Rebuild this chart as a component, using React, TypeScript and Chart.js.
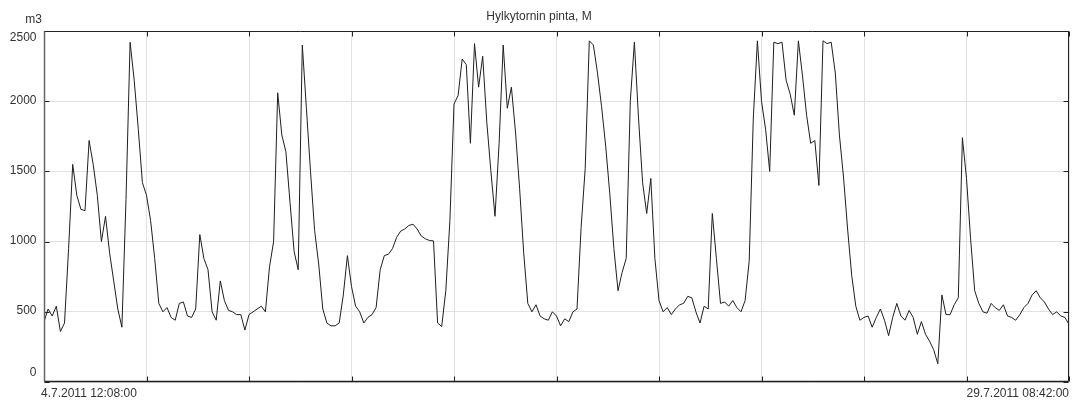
import React, { useEffect, useRef } from 'react';
import { Chart, registerables } from 'chart.js';

Chart.register(...registerables);

const chartTitle = 'Hylkytornin pinta, M';
const unitLabel = 'm3';
const startLabel = '4.7.2011 12:08:00';
const endLabel = '29.7.2011 08:42:00';
const yTicks = [0, 500, 1000, 1500, 2000, 2500];

// Level samples, evenly spaced in time (25 samples per grid division)
const levelsA = [430, 520, 470, 540, 360, 420, 950, 1550, 1330, 1230, 1220, 1720, 1550, 1330, 1000, 1180, 920, 720, 520, 390, 1300, 2420, 2150, 1800, 1420, 1330, 1150, 880, 560, 500, 530, 460, 440, 560, 570, 470, 460, 520, 1050, 880, 800, 500, 440, 720, 580, 510, 500, 480, 480, 370];
const levelsB = [480, 500, 520, 540, 500, 820, 1000, 2060, 1760, 1640, 1280, 930, 800, 2400, 1950, 1500, 1080, 840, 520, 420, 400, 400, 420, 620, 900, 680, 540, 500, 420, 460, 480, 530, 800, 900, 910, 950, 1030, 1075, 1090, 1115, 1124, 1090, 1040, 1020, 1008, 1005, 420, 395, 650, 1150];
const levelsC = [1980, 2040, 2300, 2260, 1700, 2410, 2100, 2320, 1850, 1500, 1180, 1700, 2400, 1950, 2100, 1780, 1380, 920, 560, 500, 550, 470, 450, 440, 500, 470, 400, 450, 430, 500, 520, 1100, 1520, 2430, 2400, 2200, 1960, 1680, 1340, 950, 650, 780, 880, 2000, 2420, 1880, 1420, 1200, 1450, 880];
const levelsD = [580, 500, 530, 480, 520, 550, 560, 610, 600, 500, 420, 540, 520, 1200, 880, 560, 570, 540, 580, 530, 500, 580, 860, 1880, 2430, 2000, 1800, 1500, 2420, 2410, 2420, 2150, 2050, 1900, 2430, 2180, 1900, 1700, 1720, 1400, 2430, 2410, 2420, 2200, 1760, 1460, 1090, 760, 540, 440];
const levelsE = [460, 470, 390, 460, 520, 440, 330, 460, 560, 470, 440, 510, 460, 340, 430, 340, 290, 230, 130, 620, 480, 480, 550, 600, 1740, 1450, 1020, 650, 560, 500, 490, 560, 530, 510, 550, 470, 460, 440, 480, 530, 560, 620, 650, 600, 570, 520, 480, 500, 470, 460, 410];

const levels = [...levelsA, ...levelsB, ...levelsC, ...levelsD, ...levelsE];

const FONT = '12px "Liberation Sans", Arial, sans-serif';
const TEXT = '#333';

const decor = {
  id: 'decor',
  afterDraw(chart: any) {
    const { ctx, chartArea: a, scales } = chart;
    const xs = scales.x;
    const ys = scales.y;
    ctx.save();
    const L = Math.round(a.left) + 0.5;
    const R = Math.round(a.right) - 0.5;
    const T = Math.round(a.top) + 0.5;
    const B = Math.round(a.bottom) - 0.5;

    // inner tick marks
    ctx.strokeStyle = '#222';
    ctx.lineWidth = 1;
    ctx.beginPath();
    xs.ticks.forEach((t: any) => {
      const px = Math.round(xs.getPixelForValue(t.value)) + 0.5;
      ctx.moveTo(px, B);
      ctx.lineTo(px, B - 5);
      ctx.moveTo(px, T);
      ctx.lineTo(px, T + 5);
    });
    ys.ticks.forEach((t: any) => {
      const py = Math.round(ys.getPixelForValue(t.value)) + 0.5;
      ctx.moveTo(L, py);
      ctx.lineTo(L + 5, py);
      ctx.moveTo(R, py);
      ctx.lineTo(R - 5, py);
    });
    ctx.stroke();

    // frame
    ctx.strokeStyle = '#222';
    ctx.beginPath();
    ctx.moveTo(L, T);
    ctx.lineTo(R, T);
    ctx.lineTo(R, B);
    ctx.stroke();
    ctx.lineWidth = 1.5;
    ctx.beginPath();
    ctx.moveTo(L, B);
    ctx.lineTo(R, B);
    ctx.stroke();
    ctx.strokeStyle = '#666';
    ctx.lineWidth = 1.5;
    ctx.beginPath();
    ctx.moveTo(L, T);
    ctx.lineTo(L, B);
    ctx.stroke();

    // y labels
    ctx.fillStyle = TEXT;
    ctx.font = FONT;
    ctx.textAlign = 'right';
    const last = yTicks.length - 1;
    yTicks.forEach((v, i) => {
      const py = ys.getPixelForValue(v);
      if (i === last) {
        ctx.textBaseline = 'top';
        ctx.fillText(String(v), 36.5, a.top + 1);
      } else if (i === 0) {
        ctx.textBaseline = 'bottom';
        ctx.fillText(String(v), 36.5, a.bottom - 3);
      } else {
        ctx.textBaseline = 'middle';
        ctx.fillText(String(v), 36.5, py - 1);
      }
    });

    // unit label and title
    ctx.textBaseline = 'alphabetic';
    ctx.textAlign = 'right';
    ctx.fillText(unitLabel, 42, 23);
    ctx.textAlign = 'center';
    ctx.fillText(chartTitle, 539, 20);

    // x labels
    ctx.textBaseline = 'middle';
    ctx.textAlign = 'left';
    ctx.fillText(startLabel, 41, 394);
    ctx.textAlign = 'right';
    ctx.fillText(endLabel, 1069, 394);
    ctx.restore();
  },
};

export default function App() {
  const ref = useRef<HTMLCanvasElement | null>(null);

  useEffect(() => {
    if (!ref.current) return;
    const data = levels.map((v, i) => ({ x: i, y: v }));
    const chart = new Chart(ref.current, {
      type: 'line',
      data: {
        datasets: [
          {
            data,
            borderColor: '#1e1e1e',
            borderWidth: 1,
            pointRadius: 0,
            tension: 0,
            fill: false,
          },
        ],
      },
      options: {
        animation: false,
        responsive: false,
        maintainAspectRatio: false,
        layout: { padding: { left: 44, right: 5, top: 31, bottom: 21 } },
        plugins: {
          legend: { display: false },
          tooltip: { enabled: false },
          title: { display: false },
        },
        scales: {
          x: {
            type: 'linear',
            min: 0,
            max: levels.length - 1,
            ticks: { display: false, stepSize: 25 },
            grid: { color: '#e2e2e2', drawTicks: false },
            border: { display: false },
            afterFit: (s: any) => {
              s.height = 0;
            },
          },
          y: {
            min: yTicks[0],
            max: yTicks[yTicks.length - 1],
            ticks: { display: false, stepSize: 500 },
            grid: { color: '#e2e2e2', drawTicks: false },
            border: { display: false },
            afterFit: (s: any) => {
              s.width = 0;
            },
          },
        },
      },
      plugins: [decor],
    });
    return () => chart.destroy();
  }, []);

  return (
    <div style={{ position: 'fixed', left: 0, top: 0, width: 1074, height: 403, background: '#fff' }}>
      <canvas ref={ref} width={1074} height={403} />
    </div>
  );
}
